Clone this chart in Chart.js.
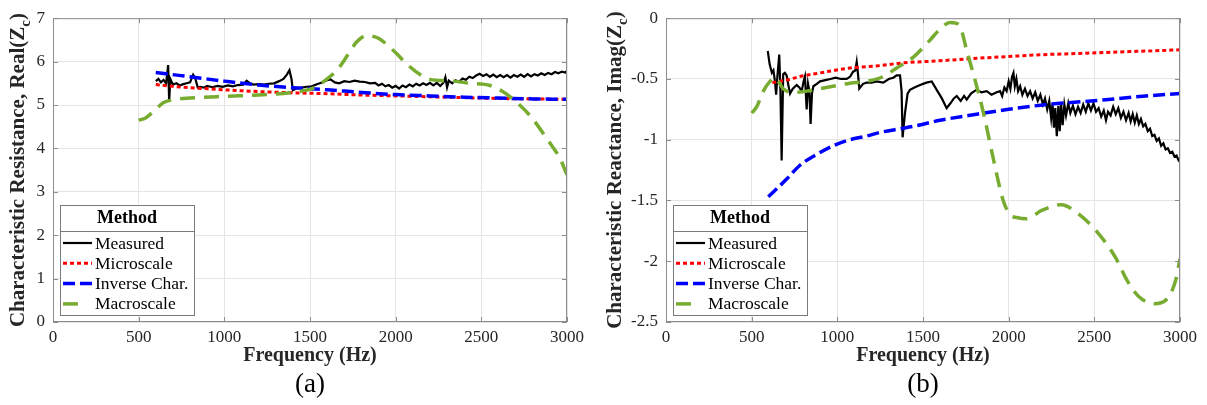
<!DOCTYPE html>
<html>
<head>
<meta charset="utf-8">
<script src="https://cdn.jsdelivr.net/npm/chart.js@4"></script>
<style>
  body { margin: 0; background: #fff; }
  #wrap { position: relative; width: 1207px; height: 405px; }
  canvas { position: absolute; top: 0; }
</style>
</head>
<body>
<div id="wrap">
  <canvas id="realChart" width="600" height="405" style="left:0"></canvas>
  <canvas id="imagChart" width="607" height="405" style="left:600px"></canvas>
</div>
<script>
// ---- data ----
const methods = ['Measured', 'Microscale', 'Inverse Char.', 'Macroscale'];

// (a) real part
const measFreqRe = [600, 615, 630, 645, 660, 672, 678, 685, 700, 720, 740, 760, 780, 800, 818, 830, 845, 860, 880, 900,
  930, 960, 990, 1020, 1050, 1080, 1110, 1130, 1150, 1170, 1200, 1230, 1260, 1290, 1320, 1345, 1365, 1380, 1392, 1400,
  1420, 1450, 1480, 1510, 1540, 1570, 1600, 1620, 1645, 1670, 1700, 1730, 1760, 1790, 1820, 1850,
  1880, 1900, 1920, 1940, 1960, 1980, 2000, 2020, 2040, 2060, 2080, 2100, 2120, 2140, 2160, 2180, 2200, 2220, 2240, 2260,
  2280, 2290, 2300, 2310, 2330, 2350, 2370, 2390, 2410, 2430, 2450, 2470, 2490, 2510, 2530, 2550, 2570, 2590, 2610, 2630,
  2650, 2670, 2690, 2710, 2730, 2750, 2770, 2790, 2810, 2830, 2850, 2870, 2890, 2910, 2930, 2950, 2970, 2990, 3000];
const measRe = [5.55, 5.60, 5.52, 5.58, 5.50, 5.92, 5.10, 5.60, 5.47, 5.50, 5.45, 5.48, 5.50, 5.52, 5.70, 5.62, 5.40, 5.42, 5.40, 5.44,
  5.41, 5.44, 5.42, 5.45, 5.43, 5.46, 5.47, 5.56, 5.50, 5.47, 5.48, 5.47, 5.49, 5.50, 5.55, 5.60, 5.70, 5.80, 5.60, 5.34,
  5.38, 5.40, 5.42, 5.43, 5.48, 5.52, 5.57, 5.59, 5.52, 5.50, 5.55, 5.53, 5.56, 5.54, 5.53, 5.50,
  5.51, 5.45, 5.49, 5.43, 5.46, 5.40, 5.44, 5.38, 5.45, 5.41, 5.47, 5.43, 5.49, 5.45, 5.50, 5.46, 5.51, 5.45, 5.51, 5.44,
  5.52, 5.64, 5.41, 5.56, 5.50, 5.57, 5.53, 5.61, 5.58, 5.65, 5.62, 5.68, 5.72, 5.67, 5.71, 5.65, 5.70, 5.64, 5.69, 5.64,
  5.69, 5.63, 5.69, 5.65, 5.70, 5.65, 5.71, 5.66, 5.71, 5.68, 5.73, 5.69, 5.74, 5.71, 5.76, 5.73, 5.77, 5.75, 5.79];

const microFreqRe = [600, 700, 800, 1000, 1200, 1400, 1600, 1800, 2000, 2200, 2400, 2600, 2800, 3000];
const microRe = [5.47, 5.43, 5.40, 5.35, 5.31, 5.28, 5.26, 5.23, 5.21, 5.19, 5.17, 5.15, 5.14, 5.13];

const invFreqRe = [600, 700, 800, 1000, 1200, 1400, 1600, 1800, 2000, 2200, 2400, 2600, 2800, 3000];
const invRe = [5.75, 5.70, 5.65, 5.55, 5.46, 5.40, 5.35, 5.29, 5.24, 5.21, 5.18, 5.16, 5.14, 5.13];

const macroFreqRe = [500, 540, 566, 600, 643, 700, 800, 1000, 1200, 1383, 1450, 1519, 1600, 1665, 1720, 1772, 1830, 1870,
  1907, 1985, 2083, 2150, 2200, 2337, 2434, 2551, 2620, 2686, 2785, 2883, 2960, 3000];
const macroRe = [4.65, 4.70, 4.78, 4.90, 5.05, 5.12, 5.16, 5.20, 5.23, 5.28, 5.32, 5.39, 5.60, 5.84, 6.15, 6.45, 6.60, 6.58,
  6.52, 6.26, 5.88, 5.68, 5.59, 5.55, 5.50, 5.45, 5.32, 5.13, 4.75, 4.22, 3.76, 3.39];

// (b) imaginary part
const measFreqIm = [594, 605, 618, 627, 636, 643, 650, 661, 668, 675, 684, 694, 704, 714, 724, 740, 763, 778, 792, 803,
  811, 821, 829, 837, 844, 852, 860, 880, 899, 930, 960, 990, 1020, 1055, 1075, 1092, 1105, 1113, 1120, 1128,
  1150, 1171, 1200, 1230, 1268, 1300, 1327, 1346, 1366, 1375, 1381, 1390, 1395, 1410, 1424, 1450, 1483, 1520, 1551, 1580,
  1610, 1638, 1660, 1680, 1697, 1720, 1740, 1755, 1780, 1800, 1813, 1840, 1872, 1900, 1930,
  1950, 1962, 1975, 1988, 2000, 2010, 2020, 2028, 2036, 2045, 2055, 2067, 2080, 2095, 2110, 2125, 2140, 2155, 2170, 2185,
  2200, 2212, 2225, 2237, 2248, 2256, 2264, 2272, 2281, 2290, 2298, 2306, 2315, 2325, 2335, 2348, 2360, 2375, 2390, 2405,
  2420, 2435, 2450, 2465, 2480, 2495, 2510, 2525, 2540, 2555, 2568, 2580, 2595, 2610, 2625, 2640, 2655, 2670, 2685, 2700,
  2712, 2724, 2736, 2748, 2760, 2772, 2785, 2798, 2812, 2825, 2838, 2851, 2864, 2877, 2890, 2903, 2916, 2929, 2942, 2955,
  2968, 2980, 2992, 3000];
const measIm = [-0.27, -0.38, -0.45, -0.43, -0.52, -0.63, -0.48, -0.30, -0.60, -1.17, -0.46, -0.45, -0.47, -0.55, -0.62, -0.58, -0.55, -0.57, -0.60, -0.52,
  -0.48, -0.75, -0.54, -0.60, -0.87, -0.62, -0.56, -0.54, -0.52, -0.51, -0.50, -0.49, -0.50, -0.50, -0.48, -0.44, -0.43, -0.36, -0.45, -0.58,
  -0.54, -0.53, -0.53, -0.52, -0.53, -0.50, -0.49, -0.47, -0.47, -0.60, -0.98, -0.85, -0.78, -0.62, -0.59, -0.57, -0.55, -0.53, -0.52, -0.59,
  -0.66, -0.74, -0.70, -0.66, -0.64, -0.68, -0.64, -0.67, -0.62, -0.60, -0.59, -0.61, -0.60, -0.63, -0.61,
  -0.60, -0.64, -0.57, -0.60, -0.52, -0.58, -0.48, -0.45, -0.56, -0.50, -0.60, -0.56, -0.63, -0.58, -0.64, -0.60, -0.66, -0.61, -0.68, -0.63,
  -0.71, -0.66, -0.75, -0.68, -0.82, -0.70, -0.90, -0.74, -0.97, -0.72, -0.93, -0.70, -0.88, -0.71, -0.80, -0.70, -0.78, -0.72, -0.79, -0.73,
  -0.78, -0.71, -0.77, -0.70, -0.76, -0.70, -0.77, -0.74, -0.81, -0.76, -0.84, -0.77, -0.80, -0.73, -0.79, -0.74, -0.82, -0.77, -0.84, -0.78,
  -0.85, -0.79, -0.86, -0.80, -0.87, -0.83, -0.89, -0.87, -0.93, -0.91, -0.97, -0.96, -1.01, -0.99, -1.05, -1.03, -1.08, -1.07, -1.11, -1.10,
  -1.14, -1.13, -1.17, -1.16];

const microFreqIm = [620, 700, 782, 900, 1074, 1249, 1366, 1600, 1813, 2000, 2200, 2416, 2600, 2800, 3000];
const microIm = [-0.53, -0.51, -0.48, -0.45, -0.41, -0.39, -0.37, -0.35, -0.33, -0.315, -0.30, -0.29, -0.28, -0.27, -0.26];

const invFreqIm = [597, 700, 782, 880, 975, 1074, 1171, 1249, 1366, 1444, 1600, 1813, 2000, 2223, 2400, 2617, 2800, 3000];
const invIm = [-1.47, -1.33, -1.21, -1.12, -1.05, -1.00, -0.97, -0.94, -0.91, -0.89, -0.84, -0.79, -0.75, -0.71, -0.69, -0.665, -0.64, -0.62];

const macroFreqIm = [500, 529, 568, 607, 636, 660, 684, 743, 821, 899, 975, 1074, 1171, 1268, 1346, 1444, 1541, 1599, 1658, 1690,
  1720, 1755, 1804, 1853, 1911, 1968, 2010, 2047, 2104, 2195, 2307, 2398, 2511, 2624, 2692, 2759, 2850, 2917, 2974, 3000];
const macroIm = [-0.78, -0.73, -0.60, -0.52, -0.49, -0.53, -0.58, -0.61, -0.60, -0.58, -0.56, -0.535, -0.52, -0.48, -0.41, -0.32, -0.18, -0.09, -0.035, -0.04,
  -0.08, -0.265, -0.51, -0.78, -1.16, -1.50, -1.62, -1.64, -1.65, -1.58, -1.535, -1.60, -1.75, -1.97, -2.16, -2.29, -2.35, -2.32, -2.16, -1.98];

const xTicks = [0, 500, 1000, 1500, 2000, 2500, 3000];

// ---- styles ----
const SERIF = '"Liberation Serif", "Times New Roman", serif';
Chart.defaults.font.family = SERIF;
Chart.defaults.color = '#262626';

const styles = [
  { color: '#000000', width: 2.2, dash: [], sample: [3, 32] },
  { color: '#ff0000', width: 3, dash: [4, 3], sample: [3, 32] },
  { color: '#0000ff', width: 3.5, dash: [12, 5], sample: [3, 32] },
  { color: '#77ac30', width: 3.5, dash: [15, 9], sample: [3, 18] },
];

function pts(xs, ys) {
  return xs.map((x, i) => ({ x: x, y: ys[i] }));
}

function dataset(i, xs, ys, smooth) {
  const s = styles[i];
  return {
    label: methods[i],
    data: pts(xs, ys),
    borderColor: s.color,
    borderWidth: s.width,
    borderDash: s.dash,
    borderCapStyle: 'butt',
    pointRadius: 0,
    fill: false,
    tension: smooth ? 0.4 : 0,
    cubicInterpolationMode: smooth ? 'monotone' : 'default',
    order: 4 - i,
  };
}

// frame, inward ticks, titles and the boxed legend
const decorPlugin = {
  id: 'decor',
  afterDraw(chart, args, o) {
    const { ctx, chartArea: a, scales } = chart;
    ctx.save();
    // frame
    ctx.strokeStyle = '#8c8c8c';
    ctx.lineWidth = 1;
    ctx.strokeRect(a.left + 0.5, a.top + 0.5, a.width - 1, a.height - 1);
    // inward ticks
    ctx.beginPath();
    scales.x.ticks.forEach(t => {
      const px = Math.round(scales.x.getPixelForValue(t.value)) + 0.5;
      ctx.moveTo(px, a.bottom); ctx.lineTo(px, a.bottom - 5);
      ctx.moveTo(px, a.top); ctx.lineTo(px, a.top + 5);
    });
    scales.y.ticks.forEach(t => {
      const py = Math.round(scales.y.getPixelForValue(t.value)) + 0.5;
      ctx.moveTo(a.left, py); ctx.lineTo(a.left + 5, py);
      ctx.moveTo(a.right, py); ctx.lineTo(a.right - 5, py);
    });
    ctx.stroke();

    ctx.fillStyle = '#262626';
    // y title with subscript
    const big = 'bold 21px ' + SERIF, small = 'bold 15px ' + SERIF;
    ctx.save();
    ctx.translate(o.yTitleX, (a.top + a.bottom) / 2);
    ctx.rotate(-Math.PI / 2);
    ctx.textBaseline = 'middle';
    ctx.textAlign = 'left';
    ctx.font = big;
    const w1 = ctx.measureText(o.yTitle[0]).width;
    const w3 = ctx.measureText(o.yTitle[2]).width;
    ctx.font = small;
    const w2 = ctx.measureText(o.yTitle[1]).width;
    const x0 = -(w1 + w2 + w3) / 2;
    ctx.font = big; ctx.fillText(o.yTitle[0], x0, 0);
    ctx.font = small; ctx.fillText(o.yTitle[1], x0 + w1, 7);
    ctx.font = big; ctx.fillText(o.yTitle[2], x0 + w1 + w2, 0);
    ctx.restore();

    // x title and caption
    const cx = (a.left + a.right) / 2;
    ctx.textAlign = 'center';
    ctx.textBaseline = 'middle';
    ctx.font = 'bold 20px ' + SERIF;
    ctx.fillText('Frequency (Hz)', cx, 356);
    ctx.font = '27px ' + SERIF;
    ctx.fillStyle = '#000';
    ctx.fillText(o.caption, cx, 385);

    // legend box
    const bx = a.left + 7, bw = 134, bh = 110, by = a.bottom - 7 - bh;
    ctx.fillStyle = '#fff';
    ctx.fillRect(bx, by, bw, bh);
    ctx.strokeStyle = '#7a7a7a';
    ctx.strokeRect(bx + 0.5, by + 0.5, bw, bh);
    ctx.beginPath();
    ctx.moveTo(bx, by + 26.5); ctx.lineTo(bx + bw, by + 26.5);
    ctx.stroke();
    ctx.fillStyle = '#000';
    ctx.font = 'bold 18px ' + SERIF;
    ctx.fillText('Method', bx + bw / 2, by + 13);
    ctx.textAlign = 'left';
    ctx.font = '17.5px ' + SERIF;
    methods.forEach((m, i) => {
      const s = styles[i];
      const ly = by + 38 + i * 20.3;
      ctx.save();
      ctx.strokeStyle = s.color;
      ctx.lineWidth = s.width;
      ctx.setLineDash(s.dash);
      ctx.lineCap = 'butt';
      ctx.beginPath();
      ctx.moveTo(bx + s.sample[0], ly);
      ctx.lineTo(bx + s.sample[1], ly);
      ctx.stroke();
      ctx.restore();
      ctx.fillText(m, bx + 35, ly + 1);
    });
    ctx.restore();
  }
};

function makeChart(id, sets, yMin, yMax, yStep, yWidth, padRight, decor) {
  return new Chart(document.getElementById(id), {
    type: 'line',
    data: { datasets: sets },
    plugins: [decorPlugin],
    options: {
      responsive: false,
      animation: false,
      layout: { padding: { top: 14, right: padRight, left: 0, bottom: 0 } },
      plugins: {
        legend: { display: false },
        tooltip: { enabled: false },
        decor: decor,
      },
      scales: {
        x: {
          type: 'linear',
          min: 0, max: 3000,
          afterBuildTicks: s => { s.ticks = xTicks.map(v => ({ value: v })); },
          afterFit: s => { s.height = 83; },
          ticks: { font: { size: 17 }, padding: 5, maxRotation: 0, callback: v => String(v) },
          grid: { color: '#e4e4e4', drawTicks: false },
          border: { display: false },
        },
        y: {
          min: yMin, max: yMax,
          afterFit: s => { s.width = yWidth; },
          ticks: { stepSize: yStep, font: { size: 17 }, padding: 8, callback: v => String(v) },
          grid: { color: '#e4e4e4', drawTicks: false },
          border: { display: false },
        },
      },
    },
  });
}

makeChart('realChart', [
  dataset(0, measFreqRe, measRe, false),
  dataset(1, microFreqRe, microRe, true),
  dataset(2, invFreqRe, invRe, true),
  dataset(3, macroFreqRe, macroRe, true),
], 0, 7, 1, 53, 33, { yTitleX: 19, yTitle: ['Characteristic Resistance, Real(Z', 'c', ')'], caption: '(a)' });

makeChart('imagChart', [
  dataset(0, measFreqIm, measIm, false),
  dataset(1, microFreqIm, microIm, true),
  dataset(2, invFreqIm, invIm, true),
  dataset(3, macroFreqIm, macroIm, true),
], -2.5, 0, 0.5, 66, 27, { yTitleX: 16, yTitle: ['Characteristic Reactance, Imag(Z', 'c', ')'], caption: '(b)' });
</script>
</body>
</html>
